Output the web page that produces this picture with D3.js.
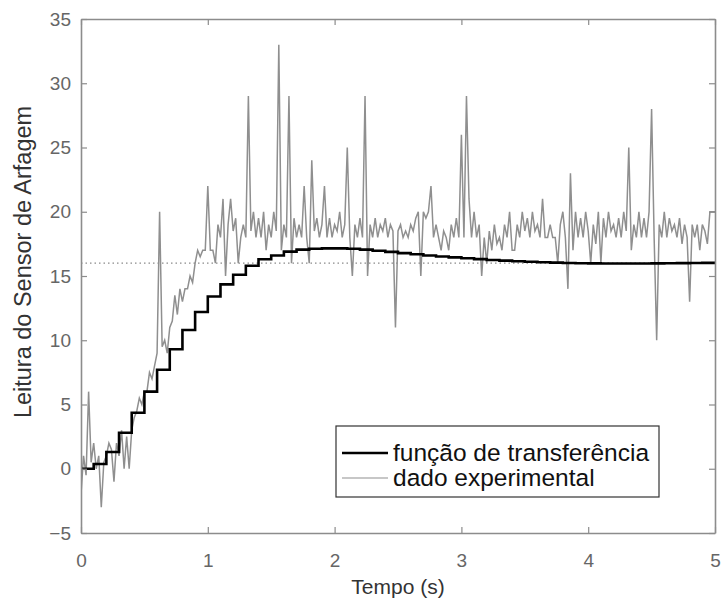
<!DOCTYPE html>
<html>
<head>
<meta charset="utf-8">
<script src="https://cdn.jsdelivr.net/npm/d3@7"></script>
<style>
  body { margin: 0; background: #fff; }
  svg { font-family: "Liberation Sans", Arial, sans-serif; }
</style>
</head>
<body>
<div id="chart"></div>
<script>
// step response of the transfer function, one value every 0.1 s (0 .. 5 s)
var tfStep = 0.1;
var tfValues = [0, 0.37, 1.3, 2.8, 4.36, 6.0, 7.7, 9.3, 10.8, 12.2,
    13.4, 14.35, 15.1, 15.8, 16.3, 16.6, 16.9, 17.05, 17.12, 17.15,
    17.15, 17.12, 17.05, 16.97, 16.88, 16.78, 16.69, 16.6, 16.52, 16.45,
    16.38, 16.31, 16.25, 16.2, 16.15, 16.11, 16.07, 16.04, 16.01, 15.99,
    15.98, 15.97, 15.97, 15.97, 15.97, 15.98, 15.99, 16.0, 16.01, 16.02, 16.03];

// experimental sensor reading, one value every 0.02 s (0 .. 5 s)
var expStep = 0.02;
var expValues = [
    -2, 1, -0.5, 6, 0.5, 2, 0, 1, -3, 0.5,
    1, 2, 1.5, -1, 2, 1, 3, 0, 2.5, 0,
    3, 4, 4.5, 5.5, 5, 6, 6, 7.5, 7, 8,
    9, 20, 9.5, 10, 9, 11, 11.5, 13.5, 12, 14,
    13, 14, 14, 15, 14.5, 16, 17, 16.5, 17, 17,
    22, 17, 17, 16, 19, 18, 21, 15, 19, 21,
    18.5, 19.5, 16, 18, 19, 18, 29, 18.5, 20, 18,
    19.5, 18, 20, 17, 19, 18, 20, 18.5, 33, 17,
    19, 18, 29, 16, 19.5, 18, 19, 18, 22, 18,
    16, 24, 18.5, 19.5, 18, 19, 22, 18, 19.5, 18,
    19, 18.5, 20, 18, 19, 25, 18, 15, 19, 18,
    19.5, 18, 29, 15, 19, 18, 19.5, 18, 19, 18.5,
    19.5, 18, 19, 18.5, 11, 18.5, 19, 18, 18.5, 18,
    19, 18.5, 19.5, 20, 15, 20, 19.5, 20, 22, 18,
    19, 18, 17, 18.5, 18, 17, 19, 18, 19.5, 18,
    26, 18, 29, 21, 18, 20, 18, 19, 15, 18,
    16, 18.5, 17, 19, 17.5, 18, 17, 19, 18, 20,
    17, 17, 19, 18, 20, 18.5, 19.5, 18, 20, 18.5,
    19, 18, 21, 18, 18, 19, 18, 18, 16, 19,
    20, 18, 14, 23, 17, 20, 18, 19.5, 18, 20,
    18.5, 16, 19, 17.5, 20, 16, 19.5, 18, 20, 18.5,
    19, 18, 19.5, 18, 20, 18.5, 25, 17, 19, 18,
    20, 18, 19.5, 18, 20, 28, 18, 10, 19, 18,
    20, 18, 19.5, 18.5, 19, 18, 19.5, 17.5, 19, 18,
    13, 19, 18, 19, 17, 19, 18.5, 17.5, 20, 20,
    20];

var refLevel = 16;
var xTicks = [0, 1, 2, 3, 4, 5];
var yTicks = [-5, 0, 5, 10, 15, 20, 25, 30, 35];
var legendLabels = ["função de transferência", "dado experimental"];

var width = 722, height = 603;
var margin = {top: 19, right: 7, bottom: 70, left: 81};

var svg = d3.select("#chart").append("svg")
    .attr("width", width)
    .attr("height", height);

var x = d3.scaleLinear().domain([0, 5]).range([margin.left, width - margin.right]);
var y = d3.scaleLinear().domain([-5, 35]).range([height - margin.bottom, margin.top]);

var tfData = tfValues.map((v, i) => ({t: i * tfStep, v: v}));
var expData = expValues.map((v, i) => ({t: i * expStep, v: v}));

svg.append("clipPath").attr("id", "plotclip")
    .append("rect")
    .attr("x", x(0)).attr("y", y(35))
    .attr("width", x(5) - x(0)).attr("height", y(-5) - y(35));

var plot = svg.append("g").attr("clip-path", "url(#plotclip)");

// reference level (dotted)
plot.append("line")
    .attr("x1", x(0)).attr("x2", x(5))
    .attr("y1", y(refLevel)).attr("y2", y(refLevel))
    .attr("stroke", "#8a8a8a")
    .attr("stroke-width", 1.2)
    .attr("stroke-dasharray", "1.5,3");

plot.append("path")
    .datum(expData)
    .attr("fill", "none")
    .attr("stroke", "#8f8f8f")
    .attr("stroke-width", 1.5)
    .attr("d", d3.line().x(d => x(d.t)).y(d => y(d.v)));

plot.append("path")
    .datum(tfData)
    .attr("fill", "none")
    .attr("stroke", "#000")
    .attr("stroke-width", 2.6)
    .attr("d", d3.line().curve(d3.curveStepAfter).x(d => x(d.t)).y(d => y(d.v)));

// axes box, MATLAB style with inward ticks
var axisColor = "#8c8c8c";
var tickLen = 6;

var xAxis = svg.append("g")
    .attr("transform", `translate(0,${y(-5)})`)
    .call(d3.axisBottom(x).tickValues(xTicks).tickSizeInner(-tickLen).tickSizeOuter(0).tickPadding(21).tickFormat(d3.format("d")));
var xAxisTop = svg.append("g")
    .attr("transform", `translate(0,${y(35)})`)
    .call(d3.axisTop(x).tickValues(xTicks).tickSizeInner(-tickLen).tickSizeOuter(0).tickFormat(""));
var yAxis = svg.append("g")
    .attr("transform", `translate(${x(0)},0)`)
    .call(d3.axisLeft(y).tickValues(yTicks).tickSizeInner(-tickLen).tickSizeOuter(0).tickPadding(10).tickFormat(d3.format("d")));
var yAxisRight = svg.append("g")
    .attr("transform", `translate(${x(5)},0)`)
    .call(d3.axisRight(y).tickValues(yTicks).tickSizeInner(-tickLen).tickSizeOuter(0).tickFormat(""));

[xAxis, xAxisTop, yAxis, yAxisRight].forEach(g => {
    g.select(".domain").attr("stroke", axisColor).attr("stroke-width", 1.6);
    g.selectAll(".tick line").attr("stroke", axisColor).attr("stroke-width", 1.2);
    g.selectAll(".tick text")
        .attr("fill", "#666")
        .style("font-size", "19px");
});

// axis titles
svg.append("text")
    .attr("x", (x(0) + x(5)) / 2)
    .attr("y", 594)
    .attr("text-anchor", "middle")
    .attr("fill", "#333")
    .style("font-size", "21px")
    .text("Tempo (s)");

svg.append("text")
    .attr("transform", "translate(31,262) rotate(-90)")
    .attr("text-anchor", "middle")
    .attr("fill", "#333")
    .style("font-size", "23.5px")
    .text("Leitura do Sensor de Arfagem");

// legend
var legend = svg.append("g").attr("transform", "translate(336,426)");
legend.append("rect")
    .attr("width", 323).attr("height", 71)
    .attr("fill", "#fff")
    .attr("stroke", "#333")
    .attr("stroke-width", 1.2);

var legendColors = ["#000", "#b4b4b4"];
var legendWidths = [2.6, 1.6];
legendLabels.forEach((label, i) => {
    var ly = 27 + i * 25;
    legend.append("line")
        .attr("x1", 6).attr("x2", 52)
        .attr("y1", ly).attr("y2", ly)
        .attr("stroke", legendColors[i])
        .attr("stroke-width", legendWidths[i]);
    legend.append("text")
        .attr("x", 57).attr("y", ly + 8)
        .attr("fill", "#111")
        .style("font-size", "24.5px")
        .text(label);
});
</script>
</body>
</html>
